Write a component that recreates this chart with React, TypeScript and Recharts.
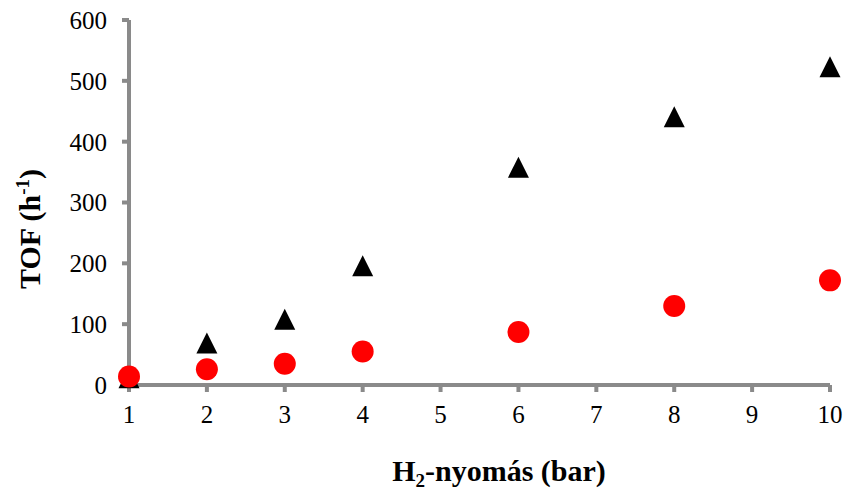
// TOF vs H2 pressure scatter
import { ScatterChart, Scatter, XAxis, YAxis, Label } from "recharts";

const pressure = [1, 2, 3, 4, 6, 8, 10];
const tofTriangle = [12, 69, 108, 196, 358, 441, 523];
const tofCircle = [14, 26, 35, 55, 87, 130, 172];
const xTicks = [1, 2, 3, 4, 5, 6, 7, 8, 9, 10];
const yTicks = [0, 100, 200, 300, 400, 500, 600];

const triData = pressure.map((x, i) => ({ x, y: tofTriangle[i] }));
const circData = pressure.map((x, i) => ({ x, y: tofCircle[i] }));

const font = "'Liberation Serif', 'Times New Roman', serif";
const axisColor = "#8a8a8a";

const TriangleShape = (props: any) => {
  const { cx, cy } = props;
  return (
    <polygon
      points={`${cx},${cy - 10.5} ${cx - 10.5},${cy + 10.5} ${cx + 10.5},${cy + 10.5}`}
      fill="#000"
    />
  );
};

const CircleShape = (props: any) => {
  const { cx, cy } = props;
  return <circle cx={cx} cy={cy} r={11} fill="#ff0000" />;
};

const XLabel = () => (
  <text x={499} y={481} textAnchor="middle" fontFamily={font} fontWeight="bold" fontSize={30} fill="#000">
    H<tspan fontSize={19} dy={6}>2</tspan>
    <tspan dy={-6}>-nyomás (bar)</tspan>
  </text>
);

const YLabel = () => (
  <text
    x={40}
    y={229}
    transform="rotate(-90, 40, 229)"
    textAnchor="middle"
    fontFamily={font}
    fontWeight="bold"
    fontSize={30}
    fill="#000"
  >
    TOF (h<tspan fontSize={19} dy={-11}>-1</tspan>
    <tspan dy={11}>)</tspan>
  </text>
);

const css = `
.recharts-cartesian-axis-line, .recharts-cartesian-axis-tick-line {
  stroke: ${axisColor};
  stroke-width: 4px;
}
`;

export default function App() {
  return (
    <div style={{ position: "absolute", left: 0, top: 0, width: 843, height: 493, background: "#fff" }}>
      <style>{css}</style>
      <ScatterChart
        width={843}
        height={493}
        margin={{ top: 20, right: 13, bottom: 58, left: 59 }}
        style={{ overflow: "visible" }}
      >
        <XAxis
          type="number"
          dataKey="x"
          domain={[1, 10]}
          ticks={xTicks}
          interval={0}
          height={50}
          stroke={axisColor}
          tickSize={7}
          tickMargin={13}
          tick={{ fill: "#000", fontFamily: font, fontSize: 25 }}
        >
          <Label content={<XLabel />} />
        </XAxis>
        <YAxis
          type="number"
          dataKey="y"
          domain={[0, 600]}
          ticks={yTicks}
          interval={0}
          width={70}
          stroke={axisColor}
          tickSize={7}
          tickMargin={15}
          tick={{ fill: "#000", fontFamily: font, fontSize: 25 }}
        >
          <Label content={<YLabel />} />
        </YAxis>
        <Scatter data={triData} shape={<TriangleShape />} isAnimationActive={false} />
        <Scatter data={circData} shape={<CircleShape />} isAnimationActive={false} />
      </ScatterChart>
    </div>
  );
}
